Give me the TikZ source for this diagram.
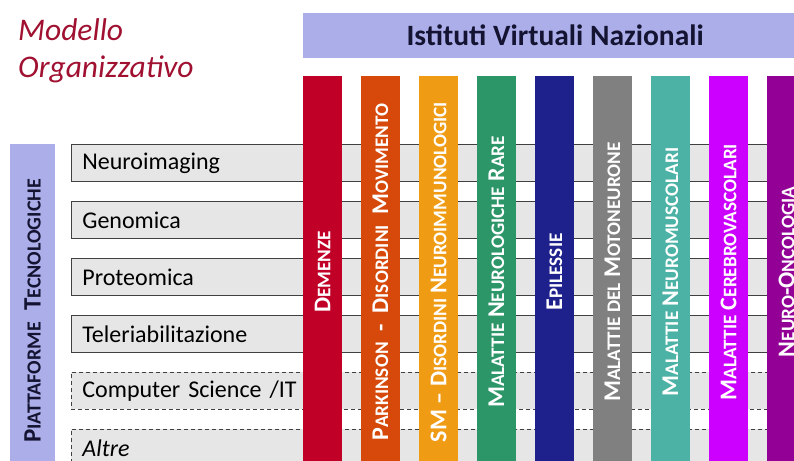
\documentclass[tikz,border=0pt]{standalone}
\usepackage{fontspec}
\setmainfont{Carlito}
\definecolor{myred}{RGB}{160,16,48}
\definecolor{mylilac}{RGB}{172,174,234}
\definecolor{myink}{RGB}{20,20,50}
\definecolor{rowgray}{RGB}{230,230,230}
\definecolor{demred}{RGB}{192,0,38}
\definecolor{parkorange}{RGB}{214,73,10}
\definecolor{smorange}{RGB}{240,155,20}
\definecolor{raregreen}{RGB}{45,150,105}
\definecolor{epiblue}{RGB}{30,32,140}
\definecolor{motogray}{RGB}{128,128,128}
\definecolor{musteal}{RGB}{75,178,165}
\definecolor{cerebmagenta}{RGB}{204,0,255}
\definecolor{oncopurple}{RGB}{146,0,150}
\usetikzlibrary{positioning}
\tikzset{banner/.style = {fill=mylilac, text=myink, inner sep=0pt}}
\newcommand{\sck}[1]{{\edef\scsz{\the\dimexpr0.8\fontdimen6\font\relax}\fontsize{\scsz}{\scsz}\selectfont#1}}

\begin{document}
\begin{tikzpicture}[x=1pt,y=-1pt,
  every node/.style={inner sep=0pt},
  platform/.style={draw=black!75,fill=rowgray,line width=0.8pt,minimum height=37pt,
    text width=718pt,inner xsep=11pt,align=left,font=\fontsize{24}{24}\selectfont},
  ivnbar/.style={rotate=90,minimum width=392pt,minimum height=39pt,text=white,
    font=\bfseries\fontsize{24}{24}\selectfont}
  ]
  \useasboundingbox (0,0) rectangle (794,460);

  % the title
  \node[anchor=base west,text=myred,font=\itshape\fontsize{31.5}{31.5}\selectfont] (model) at (18,41) {Modello};
  \node[anchor=base west,text=myred,font=\itshape\fontsize{31.5}{31.5}\selectfont] (org) at (18,77) {Organizzativo};

  % the platforms
  \foreach \t [count=\i] in {Neuroimaging,Genomica,Proteomica,Teleriabilitazione}
  \node[platform,anchor=north west] (p\i) at (71,{144+57*(\i-1)}) {\t};
  \node[platform,anchor=north west,dash pattern=on 4pt off 3pt] (p5) at (71,372) {Computer Science /IT};
  \node[platform,anchor=north west,dash pattern=on 4pt off 3pt] (p6) at (71,429) {\textit{Altre}};

  % the institutes
  \foreach \c/\t [count=\i] in {
    demred/{D\sck{EMENZE}},
    parkorange/{P\sck{ARKINSON} \ - \ D\sck{ISORDINI} \ M\sck{OVIMENTO}},
    smorange/{SM -- D\sck{ISORDINI} N\sck{EUROIMMUNOLOGICI}},
    raregreen/{M\sck{ALATTIE} N\sck{EUROLOGICHE} R\sck{ARE}},
    epiblue/{E\sck{PILESSIE}},
    motogray/{M\sck{ALATTIE DEL} M\sck{OTONEURONE}},
    musteal/{M\sck{ALATTIE} N\sck{EUROMUSCOLARI}},
    cerebmagenta/{M\sck{ALATTIE} C\sck{EREBROVASCOLARI}},
    oncopurple/{N\sck{EURO}-O\sck{NCOLOGIA}}}
  \node[ivnbar,fill=\c] (ivn\i) at ({322.5+58*(\i-1)},272) {\t};

  % the banners
  \node[banner,anchor=north west,minimum width=504pt,minimum height=45pt,
    font=\bfseries\fontsize{29.5}{29.5}\selectfont] (ivn) at (303,13) {Istituti Virtuali Nazionali};
  \node[banner,rotate=90,minimum width=334pt,minimum height=45pt,
    font=\bfseries\fontsize{25}{25}\selectfont] (pt) at (32.5,311) {P\sck{IATTAFORME} \ T\sck{ECNOLOGICHE}};
\end{tikzpicture}
\end{document}
